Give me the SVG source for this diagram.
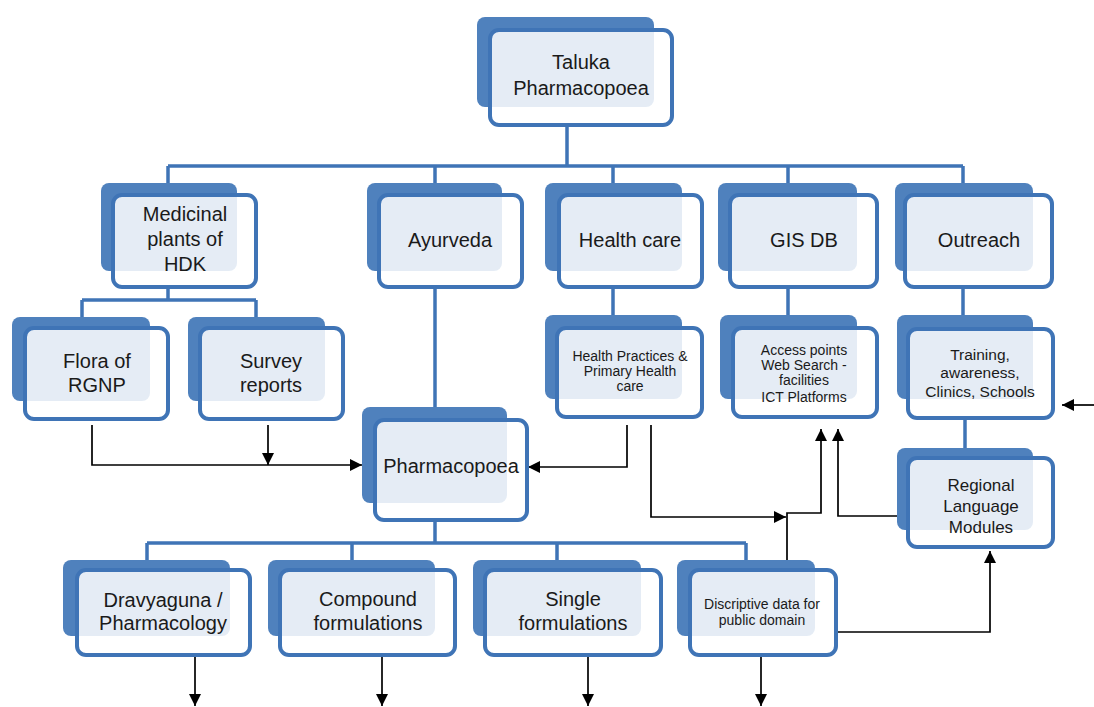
<svg xmlns="http://www.w3.org/2000/svg" width="1094" height="707" viewBox="0 0 1094 707">
<defs>
<style>
.back{fill:#4f81bd;}
.front{fill:#ffffff;fill-opacity:0.85;stroke:#3f74b6;stroke-width:4;}
.t{font-family:"Liberation Sans",Arial,sans-serif;fill:#1a1a1a;text-anchor:middle;}
.l{font-size:20px;}
.m{font-size:17px;}
.s{font-size:14px;}
.bl{fill:none;stroke:#3f74b6;stroke-width:3.5;}
.ar{fill:none;stroke:#000;stroke-width:1.7;}
</style>
<marker id="ah" viewBox="0 0 10 10" refX="10" refY="5" markerWidth="13" markerHeight="12" markerUnits="userSpaceOnUse" orient="auto">
<path d="M0,0 L10,5 L0,10 z" fill="#000"/>
</marker>
</defs>
<rect width="1094" height="707" fill="#ffffff"/>

<g id="connectors">
<path class="bl" d="M567,125 V166 M168,166 H963 M168,166 V184 M435,166 V184 M613,166 V184 M788,166 V184 M963,166 V184"/>
<path class="bl" d="M168,287 V300 M82,300 H256 M82,300 V318 M256,300 V318"/>
<path class="bl" d="M435,287 V408"/>
<path class="bl" d="M613,287 V316 M788,287 V316 M963,287 V316"/>
<path class="bl" d="M965,418 V449"/>
<path class="bl" d="M435,520 V543 M147,543 H746 M147,543 V561 M352,543 V561 M557,543 V561 M746,543 V561"/>
<path class="ar" d="M92,425 V465 H362" marker-end="url(#ah)"/>
<path class="ar" d="M268,425 V465" marker-end="url(#ah)"/>
<path class="ar" d="M627,425 V467 H528" marker-end="url(#ah)"/>
<path class="ar" d="M651,425 V517 H786" marker-end="url(#ah)"/>
<path class="ar" d="M787,561 V513 H821 V429" marker-end="url(#ah)"/>
<path class="ar" d="M907,516 H838 V429" marker-end="url(#ah)"/>
<path class="ar" d="M1094,405 H1062" marker-end="url(#ah)"/>
<path class="ar" d="M837,632 H990 V551" marker-end="url(#ah)"/>
<path class="ar" d="M195,657 V706" marker-end="url(#ah)"/>
<path class="ar" d="M382,657 V706" marker-end="url(#ah)"/>
<path class="ar" d="M588,657 V706" marker-end="url(#ah)"/>
<path class="ar" d="M761,657 V706" marker-end="url(#ah)"/>
</g>

<g id="taluka">
<rect class="back" x="477" y="17" width="177" height="90" rx="8"/>
<rect class="front" x="490" y="30" width="182" height="95" rx="9"/>
<text class="t l"><tspan x="581" y="69">Taluka</tspan><tspan x="581" y="95">Pharmacopoea</tspan></text>
</g>

<g id="medicinal">
<rect class="back" x="101" y="183" width="136" height="88" rx="8"/>
<rect class="front" x="113" y="195" width="143" height="92" rx="9"/>
<text class="t l"><tspan x="185" y="221">Medicinal</tspan><tspan x="185" y="246">plants of</tspan><tspan x="185" y="271">HDK</tspan></text>
</g>

<g id="ayurveda">
<rect class="back" x="367" y="183" width="135" height="88" rx="8"/>
<rect class="front" x="379" y="195" width="143" height="92" rx="9"/>
<text class="t l" x="450" y="247">Ayurveda</text>
</g>

<g id="healthcare">
<rect class="back" x="545" y="183" width="137" height="88" rx="8"/>
<rect class="front" x="559" y="195" width="143" height="92" rx="9"/>
<text class="t l" x="630" y="247">Health care</text>
</g>

<g id="gisdb">
<rect class="back" x="718" y="183" width="139" height="88" rx="8"/>
<rect class="front" x="730" y="195" width="147" height="92" rx="9"/>
<text class="t l" x="804" y="247">GIS DB</text>
</g>

<g id="outreach">
<rect class="back" x="895" y="183" width="138" height="88" rx="8"/>
<rect class="front" x="905" y="195" width="147" height="92" rx="9"/>
<text class="t l" x="979" y="247">Outreach</text>
</g>

<g id="flora">
<rect class="back" x="12" y="317" width="138" height="84" rx="8"/>
<rect class="front" x="25" y="328" width="143" height="91" rx="9"/>
<text class="t l"><tspan x="97" y="368">Flora of</tspan><tspan x="97" y="392">RGNP</tspan></text>
</g>

<g id="survey">
<rect class="back" x="188" y="317" width="137" height="84" rx="8"/>
<rect class="front" x="200" y="328" width="143" height="91" rx="9"/>
<text class="t l"><tspan x="271" y="368">Survey</tspan><tspan x="271" y="392">reports</tspan></text>
</g>

<g id="healthpractices">
<rect class="back" x="545" y="315" width="137" height="84" rx="8"/>
<rect class="front" x="557" y="328" width="145" height="89" rx="9"/>
<text class="t s"><tspan x="630" y="361">Health Practices &amp;</tspan><tspan x="630" y="376">Primary Health</tspan><tspan x="630" y="391">care</tspan></text>
</g>

<g id="access">
<rect class="back" x="720" y="315" width="137" height="84" rx="8"/>
<rect class="front" x="733" y="328" width="144" height="89" rx="9"/>
<text class="t s"><tspan x="804" y="355">Access points</tspan><tspan x="804" y="370">Web Search -</tspan><tspan x="804" y="385">facilities</tspan><tspan x="804" y="402">ICT Platforms</tspan></text>
</g>

<g id="training">
<rect class="back" x="897" y="315" width="136" height="84" rx="8"/>
<rect class="front" x="908" y="329" width="145" height="89" rx="9"/>
<text class="t" style="font-size:15.5px"><tspan x="980" y="360">Training,</tspan><tspan x="980" y="378">awareness,</tspan><tspan x="980" y="397">Clinics, Schools</tspan></text>
</g>

<g id="regional">
<rect class="back" x="897" y="448" width="136" height="82" rx="8"/>
<rect class="front" x="908" y="458" width="145" height="89" rx="9"/>
<text class="t m"><tspan x="981" y="491">Regional</tspan><tspan x="981" y="512">Language</tspan><tspan x="981" y="533">Modules</tspan></text>
</g>

<g id="pharmacopoea">
<rect class="back" x="362" y="407" width="145" height="96" rx="8"/>
<rect class="front" x="375" y="420" width="152" height="100" rx="9"/>
<text class="t l" x="451" y="473">Pharmacopoea</text>
</g>

<g id="dravyaguna">
<rect class="back" x="63" y="560" width="167" height="76" rx="8"/>
<rect class="front" x="77" y="570" width="173" height="85" rx="9"/>
<text class="t l"><tspan x="163" y="607">Dravyaguna /</tspan><tspan x="163" y="630">Pharmacology</tspan></text>
</g>

<g id="compound">
<rect class="back" x="268" y="560" width="167" height="76" rx="8"/>
<rect class="front" x="280" y="570" width="175" height="85" rx="9"/>
<text class="t l"><tspan x="368" y="606">Compound</tspan><tspan x="368" y="630">formulations</tspan></text>
</g>

<g id="single">
<rect class="back" x="473" y="560" width="168" height="76" rx="8"/>
<rect class="front" x="485" y="570" width="176" height="85" rx="9"/>
<text class="t l"><tspan x="573" y="606">Single</tspan><tspan x="573" y="630">formulations</tspan></text>
</g>

<g id="discriptive">
<rect class="back" x="677" y="560" width="138" height="76" rx="8"/>
<rect class="front" x="690" y="570" width="146" height="85" rx="9"/>
<text class="t s"><tspan x="762" y="609">Discriptive data for</tspan><tspan x="762" y="625">public domain</tspan></text>
</g>
</svg>
